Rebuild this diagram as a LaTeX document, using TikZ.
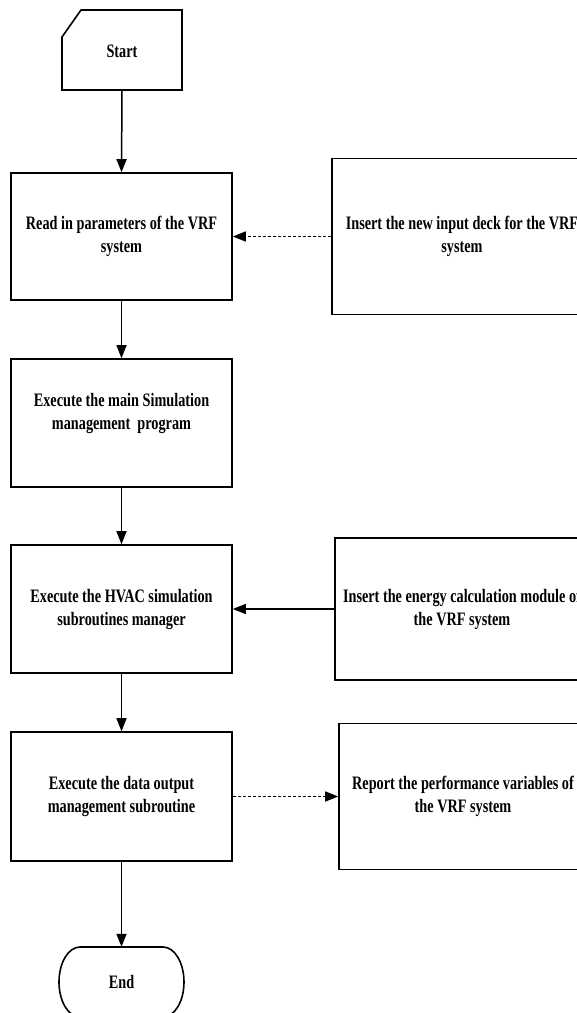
\documentclass[tikz,border=0pt]{standalone}
\usepackage{fontspec}
\setmainfont{Liberation Serif}[FakeStretch=0.75]
\usetikzlibrary{arrows.meta}
\begin{document}
\begin{tikzpicture}[x=1pt,y=1pt,
  txt/.style={font=\fontsize{19}{23}\selectfont\bfseries, align=center, inner sep=0pt},
  box/.style={txt, draw, line width=1.6pt, minimum width=221pt},
  sidebox/.style={txt, draw, line width=1.6pt},
  flow/.style={line width=1.5pt, -{Triangle[length=13pt,width=10pt]}},
  dflow/.style={flow, dash pattern=on 3pt off 2pt}
]
\useasboundingbox (0,0) rectangle (577,-1013);
\clip (0,0) rectangle (577,-1013);
\fill[white] (0,0) rectangle (577,-1013);

% Start
\draw[line width=1.6pt] (62,-37) -- (81,-10) -- (182,-10) -- (182,-90) -- (62,-90) -- cycle;
\node[txt, minimum width=120pt, minimum height=80pt] (start) at (122,-51) {Start};

% main column
\node[box, minimum height=127pt] (b1) at (121.5,-236.5) {Read in parameters of the VRF\\system};
\node[box, minimum height=128pt] (b2) at (121.5,-423) {Execute the main Simulation\\management~~program\\~};
\node[box, minimum height=128pt] (b3) at (121.5,-609) {Execute the HVAC simulation\\subroutines manager};
\node[box, minimum height=129pt] (b4) at (121.5,-796.5) {Execute the data output\\management subroutine};

% End
\draw[line width=1.6pt] (80,-947) -- (163,-947)
  arc[start angle=90, end angle=-90, x radius=21pt, y radius=35pt]
  -- (80,-1017)
  arc[start angle=270, end angle=90, x radius=21pt, y radius=35pt];
\node[txt, minimum width=125pt, minimum height=70pt] (end) at (121.5,-982) {End};

% side boxes
\node[sidebox, minimum width=260pt, minimum height=156pt] (r1) at (462,-236.5) {Insert the new input deck for the VRF\\system};
\node[sidebox, minimum width=254pt, minimum height=142pt] (r2) at (462,-609) {Insert the energy calculation module of\\the VRF system};
\node[sidebox, minimum width=248pt, minimum height=146pt] (r3) at (463,-796.5) {Report the performance variables of\\the VRF system};

% connectors
\draw[flow] (start.south) -- (b1.north);
\draw[flow] (b1.south) -- (b2.north);
\draw[flow] (b2.south) -- (b3.north);
\draw[flow] (b3.south) -- (b4.north);
\draw[flow] (b4.south) -- (end.north);
\draw[dflow] (r1.west) -- (b1.east);
\draw[flow] (r2.west) -- (b3.east);
\draw[dflow] (b4.east) -- (r3.west);
\end{tikzpicture}
\end{document}
